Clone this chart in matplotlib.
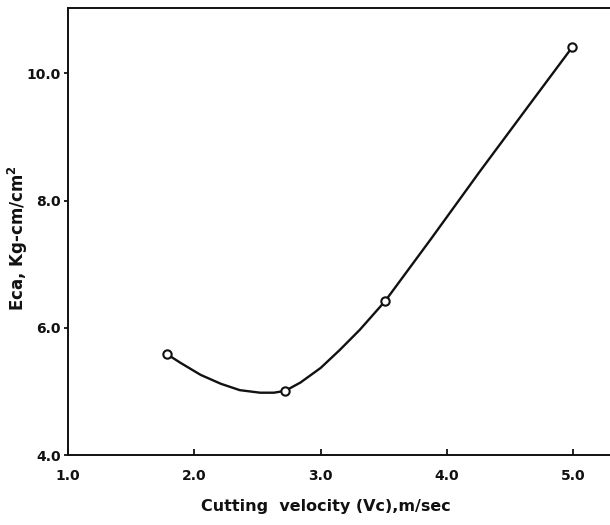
import matplotlib
matplotlib.use("Agg")
import matplotlib.pyplot as plt

plt.rcParams["mathtext.default"] = "bf"

# measured points (cutting velocity, m/sec  vs  Eca, Kg-cm/cm2)
velocity = [1.78, 2.72, 3.51, 4.99]
eca = [5.59, 5.00, 6.42, 10.41]

# hand-drawn fitted curve
curve_v = [1.78, 1.89, 2.05, 2.21, 2.36, 2.52, 2.63, 2.72, 2.84, 3.00,
           3.15, 3.31, 3.47, 3.51, 3.87, 4.26, 4.66, 4.99]
curve_e = [5.59, 5.45, 5.26, 5.12, 5.02, 4.98, 4.98, 5.01, 5.14, 5.37,
           5.65, 5.97, 6.33, 6.42, 7.39, 8.46, 9.53, 10.41]

xticks = [1.0, 2.0, 3.0, 4.0, 5.0]
yticks = [4.0, 6.0, 8.0, 10.0]
xtick_labels = ["1.0", "2.0", "3.0", "4.0", "5.0"]
ytick_labels = ["4.0", "6.0", "8.0", "10.0"]


fig = plt.figure(figsize=(6.1, 5.25), dpi=100)
ax = fig.add_axes([0.1115, 0.1333, 0.8885, 0.8515])

ink = "#111111"

ax.plot(curve_v, curve_e, color=ink, linewidth=1.7, zorder=2)
ax.plot(
    velocity,
    eca,
    "o",
    markersize=6,
    markerfacecolor="white",
    markeredgecolor=ink,
    markeredgewidth=1.5,
    zorder=3,
)

ax.set_xlim(1.0, 5.29)
ax.set_ylim(4.0, 11.03)

ax.set_xticks(xticks)
ax.set_xticklabels(xtick_labels)
ax.set_yticks(yticks)
ax.set_yticklabels(ytick_labels)

ax.tick_params(axis="x", direction="in", length=4, width=1.3, pad=10,
               labelsize=10, colors=ink)
ax.tick_params(axis="y", direction="out", length=3, width=1.3, pad=2,
               labelsize=10, colors=ink)
for lab in ax.get_xticklabels() + ax.get_yticklabels():
    lab.set_fontweight("bold")

for side in ["left", "bottom", "top"]:
    ax.spines[side].set_linewidth(1.4)
    ax.spines[side].set_color(ink)
ax.spines["right"].set_visible(False)

ax.set_xlabel("Cutting  velocity (Vc),m/sec", fontsize=11.5,
              fontweight="bold", color=ink)
ax.xaxis.set_label_coords(0.475, -0.098)
ax.set_ylabel("Eca, Kg-cm/cm$^{2}$", fontsize=12, fontweight="bold",
              color=ink)
ax.yaxis.set_label_coords(-0.070, 0.485)

fig.savefig("out.png", dpi=100)
